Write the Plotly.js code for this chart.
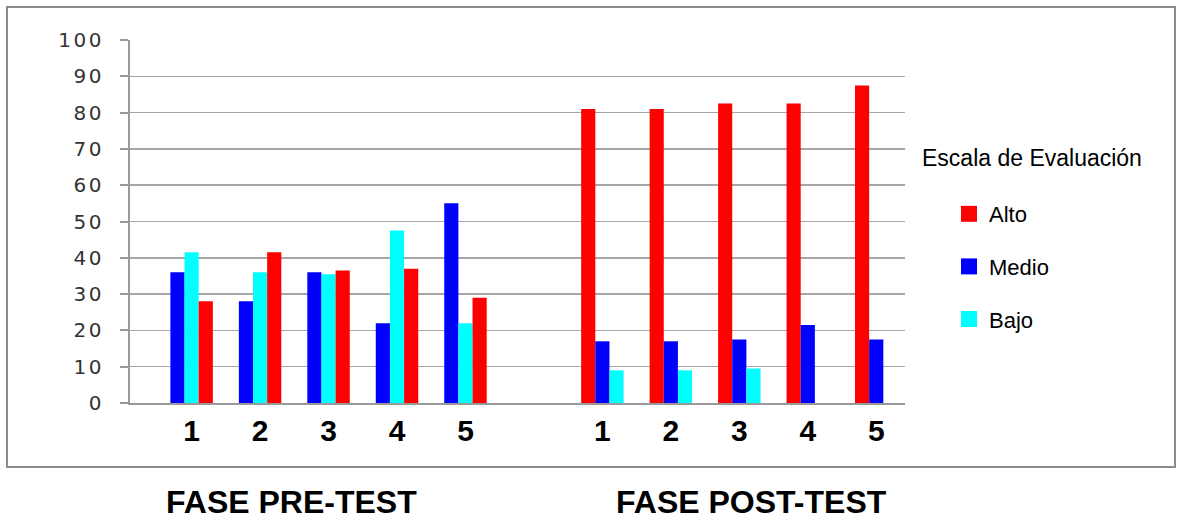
<!DOCTYPE html>
<html>
<head>
<meta charset="utf-8">
<script src="https://cdn.plot.ly/plotly-3.0.1.min.js"></script>
<style>
html,body{margin:0;padding:0;background:#fff;}
#chart{width:1181px;height:521px;}
#chart .ytick text{letter-spacing:2.5px;}
</style>
</head>
<body>
<div id="chart"></div>
<script>
// Categories (pre-test groups, a spacer, post-test groups)
var preCats = ["PRE 1", "PRE 2", "PRE 3", "PRE 4", "PRE 5"];
var postCats = ["POST 1", "POST 2", "POST 3", "POST 4", "POST 5"];
var spacer = [" "];
var tickLabels = ["1", "2", "3", "4", "5", "", "1", "2", "3", "4", "5"];

// Pre-test values
var preMedio = [36, 28, 36, 22, 55];
var preBajo  = [41.5, 36, 35.5, 47.5, 22];
var preAlto  = [28, 41.5, 36.5, 37, 29];

// Post-test values
var postAlto  = [81, 81, 82.5, 82.5, 87.5];
var postMedio = [17, 17, 17.5, 21.5, 17.5];
var postBajo  = [9, 9, 9.5, 0, 0];

var yTicks = [0, 10, 20, 30, 40, 50, 60, 70, 80, 90, 100];

var RED = "#ff0000", BLUE = "#0000ff", CYAN = "#00ffff";
var allCats = preCats.concat(spacer, postCats);

function bar(name, x, y, color, slot, show, rank) {
  return {
    type: "bar", name: name, x: x, y: y,
    marker: {color: color, line: {width: 0}},
    offsetgroup: slot, legendgroup: name, showlegend: show,
    legendrank: rank, hoverinfo: "x+y+name"
  };
}

var data = [
  bar("Medio", preCats, preMedio, BLUE, "a", false, 2),
  bar("Bajo", preCats, preBajo, CYAN, "b", false, 3),
  bar("Alto", preCats, preAlto, RED, "c", false, 1),
  bar("Alto", postCats, postAlto, RED, "a", true, 1),
  bar("Medio", postCats, postMedio, BLUE, "b", true, 2),
  bar("Bajo", postCats, postBajo, CYAN, "c", true, 3)
];

var W = 775, H = 363, L = 130, T = 40;
function px(x) { return (x - L) / W; }
function py(y) { return (T + H - y) / H; }

var layout = {
  width: 1181, height: 521,
  margin: {l: L, r: 1181 - L - W, t: T, b: 521 - T - H},
  paper_bgcolor: "#ffffff", plot_bgcolor: "#ffffff",
  barmode: "group", bargap: 0.38, bargroupgap: 0,
  font: {family: "Liberation Sans, Arial, sans-serif", color: "#000"},
  xaxis: {
    type: "category", categoryorder: "array", categoryarray: allCats,
    range: [-0.9, 10.42],
    tickmode: "array", tickvals: allCats, ticktext: tickLabels,
    tickfont: {family: "Liberation Sans, Arial, sans-serif", size: 30, color: "#000", weight: "bold"},
    ticks: "", ticklabelstandoff: 0,
    showgrid: false, showline: true, linecolor: "#999", linewidth: 2,
    zeroline: false, fixedrange: true
  },
  yaxis: {
    range: [0, 100], tickmode: "array", tickvals: yTicks,
    tickfont: {family: "DejaVu Sans, sans-serif", size: 20, color: "#333"},
    ticks: "outside", ticklen: 8, tickcolor: "#999", tickwidth: 2,
    ticklabelstandoff: 12,
    showgrid: true, gridcolor: "#a6a6a6", gridwidth: 1.5,
    showline: true, linecolor: "#999", linewidth: 2,
    zeroline: false, fixedrange: true
  },
  legend: {
    x: px(949), y: py(193), xanchor: "left", yanchor: "top",
    font: {family: "Liberation Sans, Arial, sans-serif", size: 22, color: "#000"},
    tracegroupgap: 21, bgcolor: "rgba(0,0,0,0)", itemclick: false, itemdoubleclick: false
  },
  annotations: [
    {text: "Escala de Evaluación", xref: "paper", yref: "paper", x: px(920), y: py(158),
     xanchor: "left", yanchor: "middle", showarrow: false,
     font: {family: "Liberation Sans, Arial, sans-serif", size: 23, color: "#000"}},
    {text: "<b>FASE PRE-TEST</b>", xref: "paper", yref: "paper", x: px(291), y: py(502),
     xanchor: "center", yanchor: "middle", showarrow: false,
     font: {family: "Liberation Sans, Arial, sans-serif", size: 32, color: "#000"}},
    {text: "<b>FASE POST-TEST</b>", xref: "paper", yref: "paper", x: px(751), y: py(502),
     xanchor: "center", yanchor: "middle", showarrow: false,
     font: {family: "Liberation Sans, Arial, sans-serif", size: 32, color: "#000"}}
  ],
  shapes: [
    {type: "rect", xref: "paper", yref: "paper", x0: px(7), x1: px(1175), y0: py(7), y1: py(467),
     line: {color: "#8c8c8c", width: 2}, fillcolor: "rgba(0,0,0,0)", layer: "below"}
  ]
};

Plotly.newPlot("chart", data, layout, {displayModeBar: false, staticPlot: true}).then(function (gd) {
  // enlarge the legend swatches to match the reference
  var paths = gd.querySelectorAll("g.legend g.legendpoints path");
  for (var i = 0; i < paths.length; i++) paths[i].setAttribute("d", "M8,8H-8V-8H8Z");
});
</script>
</body>
</html>
